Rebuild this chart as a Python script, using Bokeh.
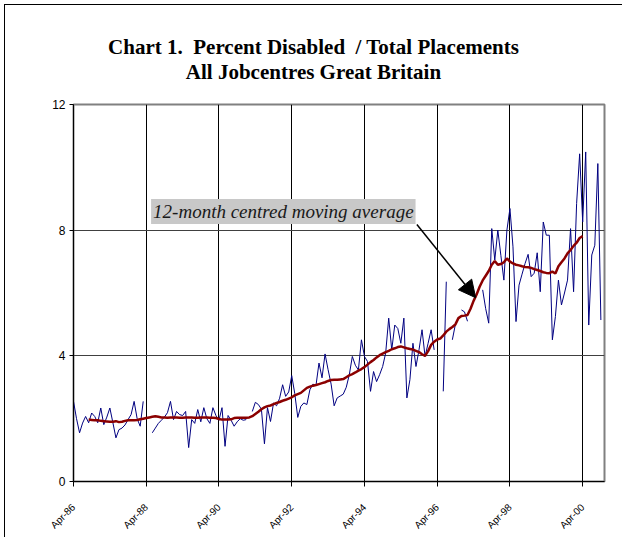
import math
from bokeh.plotting import figure
from bokeh.layouts import column
from bokeh.models import Range1d, FixedTicker, Label, Arrow, NormalHead, Div
from bokeh.embed import file_html
from bokeh.resources import INLINE

nan = float("nan")

# ---- data (months since first tick) ----
tick_months = [0, 24, 48, 72, 96, 120, 144, 168]
tick_labels = ["Apr-86", "Apr-88", "Apr-90", "Apr-92", "Apr-94", "Apr-96", "Apr-98", "Apr-00"]
y_ticks = [0, 4, 8, 12]

pct_disabled = [
    2.55, 2.0, 1.55, 1.86, 2.07, 1.87, 2.18, 2.07, 1.87, 2.34,
    1.81, 2.05, 2.34, 1.87, 1.39, 1.65, 1.7, 1.8, 1.97, 2.13,
    2.55, 2.0, 1.76, 2.55, nan, nan, 1.55, 1.7, 1.85, 1.95,
    2.05, 2.19, 2.55, 1.97, 2.23, 2.13, 2.1, 2.23, 1.08, 1.97,
    1.85, 2.29, 1.9, 2.35, 2.0, 1.85, 2.35, 2.1, 1.95, 2.35,
    1.12, 2.1, 1.95, 1.76, 1.9, 2.0, 1.95, 1.97, nan, 2.23,
    2.52, 2.45, 2.3, 1.2, 2.35, 1.91, 2.5, 2.41, 2.65, 3.08,
    2.71, 2.85, 3.37, 2.8, 2.04, 2.39, 2.5, 2.45, 2.92, 3.1,
    3.05, 3.77, 3.3, 4.06, 3.56, 3.1, 2.41, 2.66, 2.72, 2.78,
    3.0, 3.4, 3.98, 3.7, 3.55, 4.51, 3.98, 3.82, 2.87, 3.5,
    3.18, 3.4, 3.66, 4.09, 5.2, 4.19, 4.98, 4.87, 4.4, 5.2,
    2.66, 3.24, 4.4, 3.66, 4.19, 4.83, 3.98, 4.4, 4.83, 4.19,
    nan, nan, 2.87, 6.36, nan, 4.51, 5.0, nan, 5.46, 5.4,
    5.1, nan, nan, nan, nan, 6.1, 5.5, 5.04, 8.05, 7.05,
    8.0, 7.2, 6.41, 8.0, 8.69, 7.47, 5.09, 6.25, 6.6, 6.94,
    7.23, 6.52, 6.63, 7.28, 6.04, 8.26, 7.84, 7.84, 4.51, 5.25,
    6.41, 5.62, 6.0, 6.41, 8.05, 6.04, 8.85, 10.43, 8.26, 10.49,
    4.98, 7.21, 7.52, 10.12, 5.14,
]
months = list(range(len(pct_disabled)))

ma_start = 5
moving_avg = [
    1.97, 1.96, 1.95, 1.95, 1.93, 1.92, 1.91, 1.9, 1.9, 1.92,
    1.89, 1.9, 1.93, 1.95, 1.95, 1.95, 1.96, 1.98, 2.0, 2.02,
    2.04, 2.06, 2.08, 2.06,
    2.04, 2.04, 2.03, 2.04, 2.04, 2.04, 2.03, 2.03, 2.04, 2.04,
    2.04, 2.03, 2.03, 2.04, 2.04, 2.04, 2.03, 2.03, 2.02,
    1.99, 1.97, 1.97, 1.97, 1.98, 2.02, 2.03, 2.03, 2.03, 2.03, 2.04,
    2.08, 2.15, 2.22, 2.3, 2.36, 2.4, 2.42, 2.46, 2.5, 2.53,
    2.57, 2.6, 2.64, 2.68, 2.74, 2.78, 2.82, 2.9, 2.98, 3.02,
    3.05, 3.07, 3.1, 3.13, 3.16, 3.2, 3.23, 3.24, 3.24, 3.25,
    3.26, 3.32, 3.38, 3.42, 3.47, 3.53, 3.58, 3.64, 3.72, 3.8,
    3.87, 3.95, 4.02, 4.07, 4.12, 4.16, 4.21, 4.24, 4.28, 4.3,
    4.27, 4.24, 4.22, 4.2, 4.16, 4.12, 4.05, 4.0, 4.15, 4.35,
    4.45, 4.52, 4.55, 4.65, 4.77, 4.85, 4.92, 5.0, 5.2, 5.27,
    5.28, 5.3, 5.5, 5.75, 5.95, 6.2, 6.4, 6.55, 6.7, 6.9,
    7.02, 6.9, 6.92, 6.98, 7.1, 7.0, 6.94, 6.9, 6.88, 6.85,
    6.83, 6.82, 6.8, 6.76, 6.73, 6.7, 6.66, 6.64, 6.63, 6.68,
    6.62, 6.85, 6.98, 7.1, 7.26, 7.37, 7.5, 7.6, 7.75, 7.81,
]
ma_months = list(range(ma_start, ma_start + len(moving_avg)))

title_line1 = "Chart 1.&nbsp; Percent Disabled &nbsp;/ Total Placements"
title_line2 = "All Jobcentres Great Britain"
note_text = "12-month centred moving average"

# annotation placement (data units)
note_x, note_y = 25.6, 8.2
arrow_x0, arrow_y0, arrow_x1, arrow_y1 = 113.3, 8.18, 132.7, 5.85

serif = "Liberation Serif"
head = Div(text=(f"<div style=\"width:617px;text-align:center;font-family:'{serif}';"
                 f"font-weight:bold;font-size:21px;line-height:25px;color:black;"
                 f"padding-top:30px;\">{title_line1}<br>{title_line2}</div>"),
           width=617, height=89, margin=0)

p = figure(width=617, height=443, output_backend="svg", toolbar_location=None,
           x_range=Range1d(0, 175.2), y_range=Range1d(0, 12),
           min_border_left=68, min_border_right=18, min_border_bottom=55,
           min_border_top=10, background_fill_color="white", border_fill_color="white",
           margin=0)
p.title = None

p.outline_line_color = "#808080"
p.outline_line_width = 2

p.xaxis.ticker = FixedTicker(ticks=tick_months)
p.xaxis.major_label_overrides = {m: l for m, l in zip(tick_months, tick_labels)}
p.xaxis.major_label_orientation = math.pi / 4
p.xaxis.major_label_text_font = "Liberation Sans"
p.xaxis.major_label_text_font_size = "10px"
p.xaxis.major_label_text_color = "black"
p.xaxis.major_label_standoff = 19
p.xaxis.minor_tick_line_color = None
p.xaxis.major_tick_in = 0
p.xaxis.major_tick_out = 5
p.xaxis.axis_line_color = "black"
p.xaxis.major_tick_line_color = "black"

p.yaxis.ticker = FixedTicker(ticks=y_ticks)
p.yaxis.major_label_text_font = "Liberation Sans"
p.yaxis.major_label_text_font_size = "12px"
p.yaxis.major_label_text_color = "black"
p.yaxis.minor_tick_line_color = None
p.yaxis.major_tick_in = 0
p.yaxis.major_tick_out = 4
p.yaxis.axis_line_color = "black"
p.yaxis.major_tick_line_color = "black"
p.yaxis.major_label_standoff = 4

p.xgrid.ticker = FixedTicker(ticks=tick_months)
p.xgrid.grid_line_color = "black"
p.xgrid.grid_line_width = 1
p.ygrid.ticker = FixedTicker(ticks=y_ticks)
p.ygrid.grid_line_color = "#404040"
p.ygrid.grid_line_width = 1

p.line(months, pct_disabled, line_color="#000080", line_width=1)
p.line(ma_months, moving_avg, line_color="#8b0000", line_width=2.5)

p.add_layout(Label(x=note_x, y=note_y, text=note_text, text_font=serif,
                   text_font_style="italic", text_font_size="19px", text_color="#1a1a1a",
                   background_fill_color="#c8c8c8", padding=2,
                   text_baseline="bottom", text_align="left"))
p.add_layout(Arrow(x_start=arrow_x0, y_start=arrow_y0, x_end=arrow_x1, y_end=arrow_y1,
                   line_color="black", line_width=1.5,
                   end=NormalHead(size=17, fill_color="black", line_color="black")))

page = column(head, p, spacing=0)
page.styles = {"margin-left": "4px", "margin-top": "4px",
               "border-left": "1px solid black", "border-top": "1px solid black"}

open("out.html", "w").write(file_html(page, INLINE))
